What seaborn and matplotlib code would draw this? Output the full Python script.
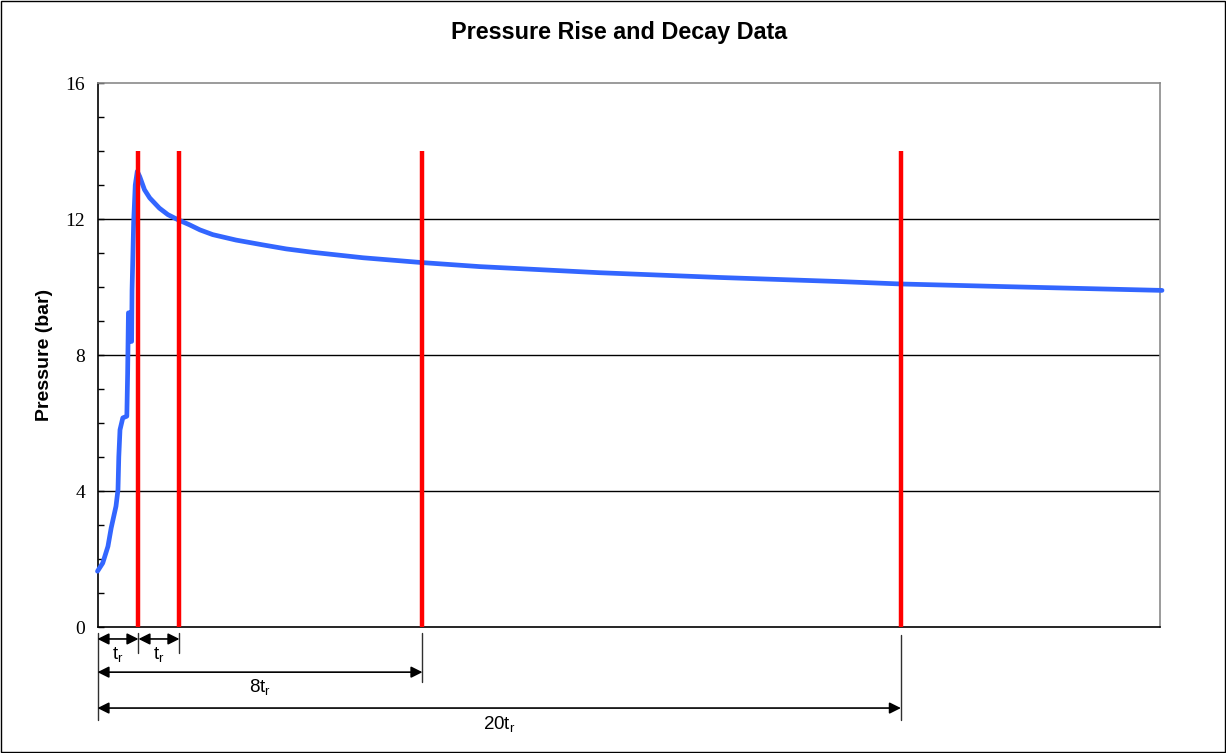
import matplotlib
matplotlib.use("Agg")
import matplotlib.pyplot as plt
import matplotlib.patches as patches
import seaborn as sns
import pandas as pd
import numpy as np

# ---- data (x in units of t_r, y in bar) ----
time = [0.0, 0.13, 0.26, 0.34, 0.46, 0.51, 0.53, 0.56, 0.63, 0.73, 0.75, 0.77, 0.81, 0.81,
        0.85, 0.86, 0.90, 0.94, 0.99, 1.05, 1.17, 1.30, 1.42, 1.54, 1.75, 2.00, 2.29,
        2.55, 2.87, 3.45, 4.11, 4.7, 5.36, 6.61, 8.06, 9.51, 12.5, 15.49, 18.48, 19.97,
        22.63, 26.5]
pressure = [1.64, 1.88, 2.37, 2.91, 3.55, 4.04, 5.0, 5.8, 6.15, 6.2, 7.45, 9.24, 9.24, 8.4,
            8.4, 9.9, 11.9, 13.0, 13.4, 13.25, 12.86, 12.62, 12.47, 12.32, 12.13, 11.98, 11.83,
            11.68, 11.54, 11.38, 11.24, 11.12, 11.02, 10.86, 10.72, 10.6, 10.42, 10.28, 10.16,
            10.09, 10.01, 9.9]

red_lines_x = [1.02, 2.04, 8.09, 20.0]
red_top = 14.0

yticks_major = [0, 4, 8, 12, 16]
title = "Pressure Rise and Decay Data"
ylabel = "Pressure (bar)"

df = pd.DataFrame({"time": time, "pressure": pressure})

sns.set_theme(style="white")
plt.rcParams["font.family"] = ["Liberation Sans", "DejaVu Sans"]
plt.rcParams["text.color"] = "black"
plt.rcParams["axes.labelcolor"] = "black"
plt.rcParams["ytick.color"] = "black"
plt.rcParams["xtick.color"] = "black"

fig = plt.figure(figsize=(12.26, 7.53), dpi=100)
ax = fig.add_axes([97.5 / 1226, 126 / 753, (1160 - 97.5) / 1226, 544 / 753])

sns.lineplot(data=df, x="time", y="pressure", sort=False, estimator=None,
             color="#3366FF", linewidth=3.4, ax=ax, zorder=3)
for ln in ax.lines:
    ln.set_clip_on(False)
    ln.set_solid_joinstyle("round")

ax.vlines(red_lines_x, 0, red_top, colors="#FF0000", linewidth=3.2, zorder=4)

ax.set_xlim(0, 26.45)
ax.set_ylim(0, 16)
ax.set_xticks([])
ax.set_yticks(yticks_major)
ax.set_yticks(np.arange(0, 17, 1), minor=True)
ax.set_yticklabels([str(v) for v in yticks_major], family="Liberation Serif", fontsize=14,
                   color="black")
ax.tick_params(axis="y", which="both", direction="in", left=True, length=4, width=1,
               color="black", pad=9)
ax.tick_params(axis="y", which="minor", length=4)

for y in [4, 8, 12]:
    ax.axhline(y, color="black", linewidth=1.0, zorder=1)

ax.spines["left"].set_color("black")
ax.spines["bottom"].set_color("black")
ax.spines["top"].set_color("#8a8a8a")
ax.spines["right"].set_color("#8a8a8a")
for s in ax.spines.values():
    s.set_linewidth(1.2)
    s.set_visible(True)

ax.set_xlabel("")
ax.set_ylabel(ylabel, fontsize=14, fontweight="bold", labelpad=9, color="black")

fig.text(619 / 1226, 1 - 32.7 / 753, title, ha="center", va="center",
         fontsize=16.8, fontweight="bold", color="black")

# ---- dimension annotations below the axis ----
tr = ax.get_xaxis_transform()
ext_col = "#303030"
def vline(x, y0, y1):
    ax.plot([x, x], [y0, y1], transform=tr, color=ext_col, linewidth=1.0, clip_on=False)

vline(0, -0.011, -0.171)
vline(red_lines_x[0], -0.011, -0.048)
vline(red_lines_x[1], -0.011, -0.048)
vline(red_lines_x[2], -0.011, -0.101)
vline(red_lines_x[3], -0.015, -0.171)

def dim(x0, x1, y, label, ylab):
    ax.annotate("", xy=(x1, y), xytext=(x0, y), xycoords=tr, textcoords=tr,
                arrowprops=dict(arrowstyle="<|-|>", color="black", lw=1.2,
                                shrinkA=0, shrinkB=0, mutation_scale=17),
                annotation_clip=False)
    ax.text((x0 + x1) / 2, ylab, label, transform=tr, ha="center", va="center",
            fontsize=13.5, clip_on=False, color="black")

dim(0, red_lines_x[0], -0.022, r"$\mathregular{t_r}$", -0.05)
dim(red_lines_x[0], red_lines_x[1], -0.022, r"$\mathregular{t_r}$", -0.05)
dim(0, red_lines_x[2], -0.083, r"$\mathregular{8t_r}$", -0.11)
dim(0, red_lines_x[3], -0.149, r"$\mathregular{20t_r}$", -0.178)

# figure border
fig.patches.append(patches.Rectangle((0.0006, 0.001), 0.9988, 0.998, transform=fig.transFigure,
                                     fill=False, edgecolor="black", linewidth=1.0))

fig.savefig("out.png", dpi=100)
